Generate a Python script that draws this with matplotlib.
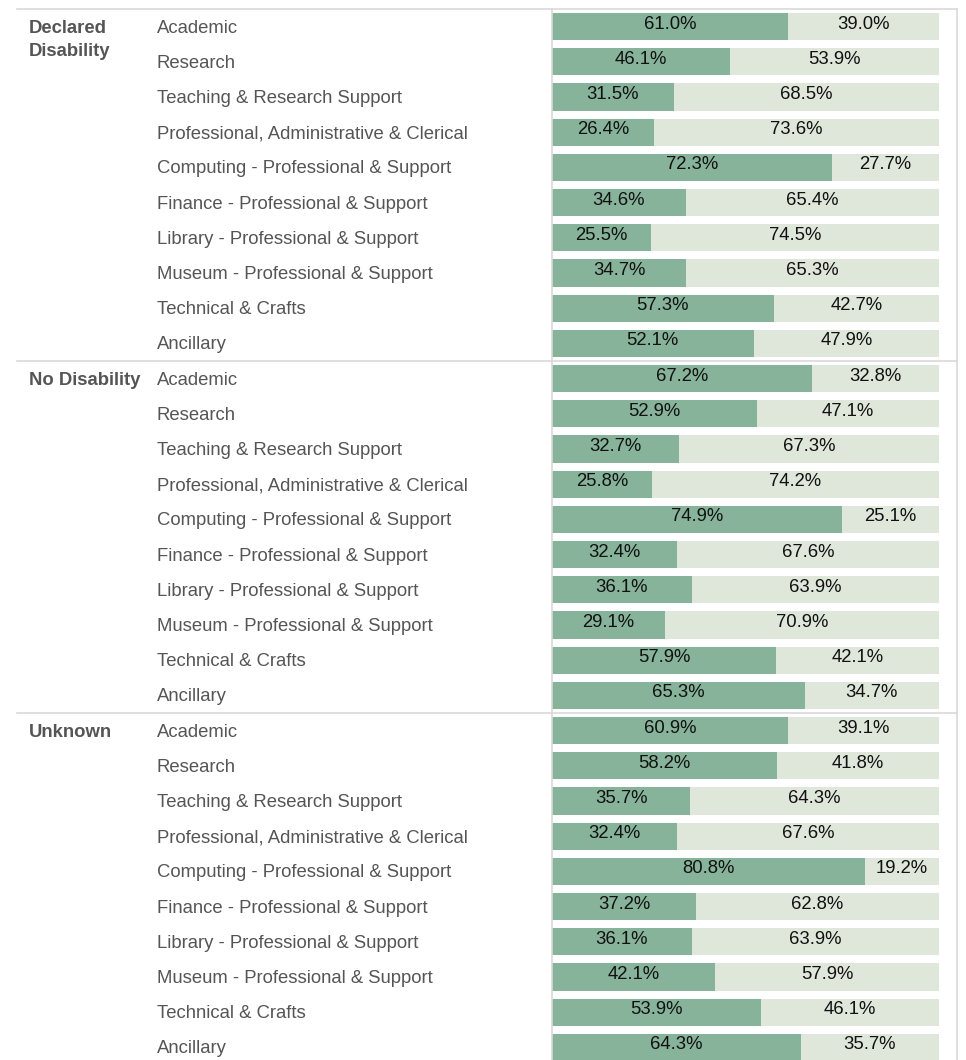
import matplotlib
matplotlib.use("Agg")
import matplotlib.pyplot as plt
from matplotlib.transforms import blended_transform_factory

plt.rcParams["font.family"] = ["Liberation Sans", "DejaVu Sans"]

groups = ["Declared Disability", "No Disability", "Unknown"]
group_lines = [["Declared", "Disability"], ["No Disability"], ["Unknown"]]
roles = ["Academic", "Research", "Teaching & Research Support",
         "Professional, Administrative & Clerical",
         "Computing - Professional & Support", "Finance - Professional & Support",
         "Library - Professional & Support", "Museum - Professional & Support",
         "Technical & Crafts", "Ancillary"]

# first segment (dark) and second segment (light) shares, %
share_a = {
    "Declared Disability": [61.0, 46.1, 31.5, 26.4, 72.3, 34.6, 25.5, 34.7, 57.3, 52.1],
    "No Disability": [67.2, 52.9, 32.7, 25.8, 74.9, 32.4, 36.1, 29.1, 57.9, 65.3],
    "Unknown": [60.9, 58.2, 35.7, 32.4, 80.8, 37.2, 36.1, 42.1, 53.9, 64.3],
}
share_b = {
    "Declared Disability": [39.0, 53.9, 68.5, 73.6, 27.7, 65.4, 74.5, 65.3, 42.7, 47.9],
    "No Disability": [32.8, 47.1, 67.3, 74.2, 25.1, 67.6, 63.9, 70.9, 42.1, 34.7],
    "Unknown": [39.1, 41.8, 64.3, 67.6, 19.2, 62.8, 63.9, 57.9, 46.1, 35.7],
}

DARK = "#86b39a"
LIGHT = "#dfe6da"
GREY_TXT = "#555555"
RULE = "#d9d9d9"

W, H = 966, 1060
ROW = 35.2
TOP = 9
n_rows = len(groups) * len(roles)

fig = plt.figure(figsize=(W / 100, H / 100), dpi=100)
ax = fig.add_axes([552 / W, 1 - (TOP + ROW * n_rows) / H, (939 - 552) / W, ROW * n_rows / H])
ax.set_xlim(0, 100)
ax.set_ylim(n_rows - 0.5, -0.5)
ax.axis("off")

lab = blended_transform_factory(fig.transFigure, ax.transData)

for g, grp in enumerate(groups):
    ys = [g * len(roles) + i for i in range(len(roles))]
    a, b = share_a[grp], share_b[grp]
    ax.barh(ys, a, height=0.77, color=DARK, clip_on=False)
    ax.barh(ys, b, left=a, height=0.77, color=LIGHT, clip_on=False)
    for y, va, vb, role in zip(ys, a, b, roles):
        ax.text(va / 2, y - 0.07, f"{va:.1f}%", ha="center", va="center",
                fontsize=13.3, color="#111111")
        ax.text(va + vb / 2, y - 0.07, f"{vb:.1f}%", ha="center", va="center",
                fontsize=13.3, color="#111111")
        ax.text(157 / W, y + 0.04, role, transform=lab, ha="left", va="center",
                fontsize=13.3, color=GREY_TXT)
    for k, line in enumerate(group_lines[g]):
        ax.text(29 / W, ys[0] + 0.04 + k * 23 / ROW, line, transform=lab, ha="left",
                va="center", fontsize=13.3, fontweight="bold", color=GREY_TXT)
    # rule above each group
    ax.plot([17 / W, 957 / W], [ys[0] - 0.5] * 2, transform=lab, color=RULE,
            lw=1.2, clip_on=False)

for xp in (552, 957):
    ax.plot([xp / W] * 2, [-0.5, n_rows - 0.5], transform=lab, color=RULE,
            lw=1.2, clip_on=False)

fig.savefig("out.png", dpi=100)
